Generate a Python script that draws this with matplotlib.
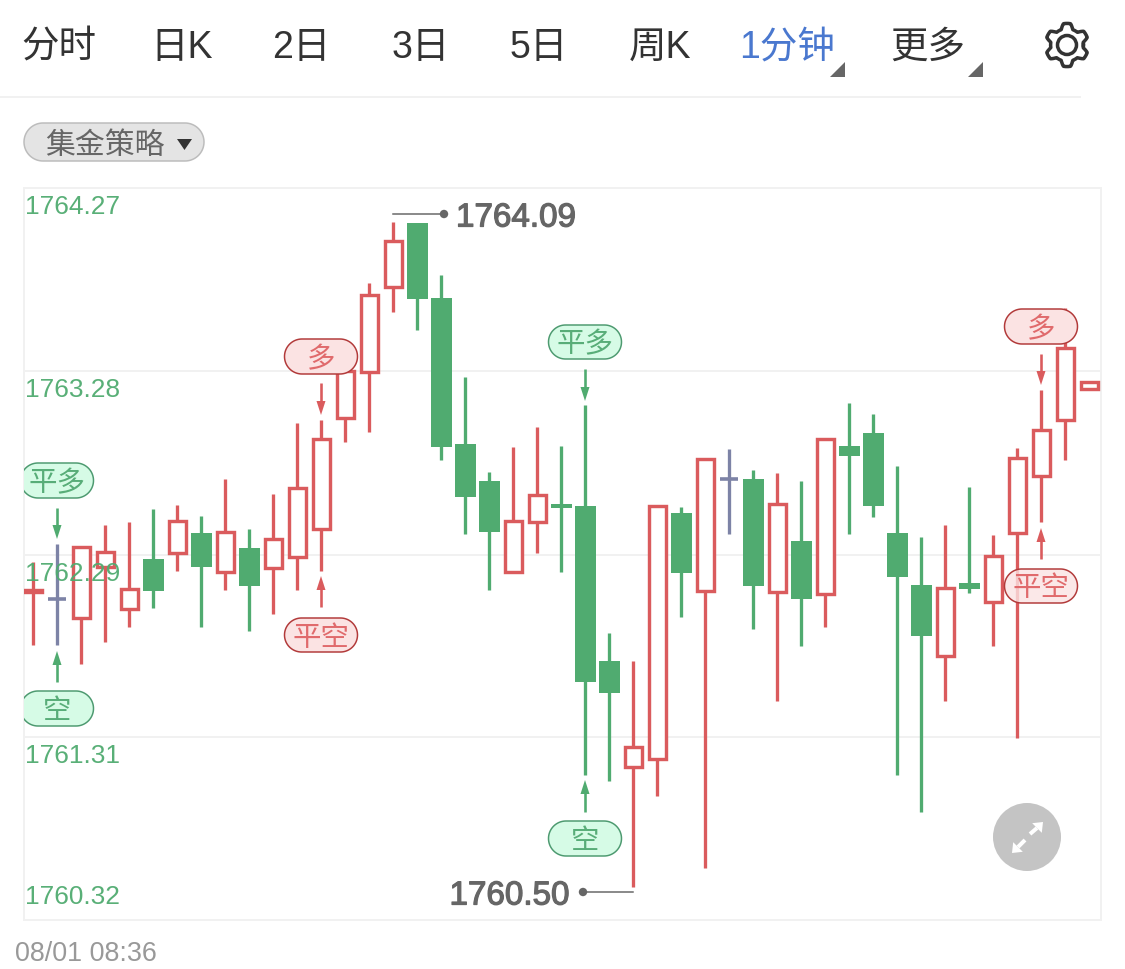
"""
1 minute K-line chart with trade signal markers, phone quote page style
"""

import matplotlib
matplotlib.use("Agg")
import matplotlib.pyplot as plt
import matplotlib.patheffects as pe
from matplotlib.colors import to_rgba
from matplotlib.patches import Circle, Polygon
import numpy as np

plt.rcParams['font.family'] = ['Liberation Sans', 'Noto Sans CJK SC']

# candle values
opens = [1762.090, 1762.052, 1761.949, 1762.225, 1761.998, 1762.268, 1762.300, 1762.408, 1762.198,
         1762.327, 1762.219, 1762.279, 1762.430, 1763.029, 1763.277, 1763.736, 1764.081, 1763.676,
         1762.888, 1762.689, 1762.198, 1762.468, 1762.565, 1762.554, 1761.717, 1761.145, 1761.189,
         1762.516, 1762.095, 1762.700, 1762.700, 1762.090, 1762.365, 1762.079, 1762.878, 1762.948,
         1762.408, 1762.128, 1761.744, 1762.138, 1762.036, 1762.408, 1762.716, 1763.018, 1763.185]
closes = [1762.100, 1762.052, 1762.333, 1762.306, 1762.106, 1762.095, 1762.473, 1762.225, 1762.413,
          1762.122, 1762.376, 1762.651, 1762.915, 1763.282, 1763.693, 1763.984, 1763.671, 1762.872,
          1762.602, 1762.413, 1762.473, 1762.613, 1762.543, 1761.604, 1761.545, 1761.253, 1762.554,
          1762.192, 1762.808, 1762.700, 1762.122, 1762.565, 1762.052, 1762.915, 1762.824, 1762.554,
          1762.171, 1761.852, 1762.111, 1762.106, 1762.284, 1762.813, 1762.964, 1763.407, 1763.223]
highs = [1762.252, 1762.349, 1762.333, 1762.451, 1762.468, 1762.538, 1762.559, 1762.500, 1762.700,
         1762.430, 1762.619, 1763.002, 1763.018, 1763.282, 1763.757, 1764.086, 1764.081, 1763.800,
         1763.250, 1762.737, 1762.872, 1762.980, 1762.878, 1763.099, 1761.869, 1761.717, 1762.554,
         1762.548, 1762.808, 1762.861, 1762.748, 1762.732, 1762.689, 1762.915, 1763.110, 1763.050,
         1762.770, 1762.387, 1762.451, 1762.656, 1762.397, 1762.867, 1763.180, 1763.622, 1763.223]
lows = [1761.804, 1761.804, 1761.701, 1761.820, 1761.901, 1762.003, 1762.203, 1761.901, 1762.100,
        1761.879, 1761.971, 1762.100, 1762.203, 1762.899, 1762.953, 1763.601, 1763.504, 1762.802,
        1762.403, 1762.100, 1762.198, 1762.300, 1762.198, 1761.102, 1761.070, 1760.498, 1760.989,
        1761.955, 1760.600, 1762.403, 1761.890, 1761.501, 1761.798, 1761.901, 1762.403, 1762.494,
        1761.102, 1760.903, 1761.501, 1762.084, 1761.798, 1761.302, 1762.468, 1762.802, 1763.185]

y_ticks = [1764.27, 1763.28, 1762.29, 1761.31, 1760.32]
tab_labels = ['分时', '日K', '2日', '3日', '5日', '周K', '1分钟', '更多']

RED = '#da5b5d'
GREEN = '#50ab70'
SLATE = '#7d83a6'
FRAME = '#f1f1f1'
PX = 0.72  # points per pixel at dpi 100

fig = plt.figure(figsize=(11.25, 9.69), dpi=100, facecolor='white')

# chart area, 24..1101 x 188..920 in picture pixels
ax = fig.add_axes([24 / 1125, 1 - 920 / 969, 1077 / 1125, 732 / 969], zorder=1)
ax.set_xlim(-0.375, 44.5)
ax.set_ylim(y_ticks[-1], y_ticks[0])
ax.set_xticks([])
ax.set_yticks([])
for spine in ax.spines.values():
    spine.set_color(FRAME)
    spine.set_linewidth(2 * PX)
for tick in y_ticks[1:-1]:
    ax.axhline(tick, color=FRAME, linewidth=2 * PX, zorder=1)

xs = np.arange(len(opens))
opens = np.array(opens)
closes = np.array(closes)
up = closes > opens
down = closes < opens
flat = closes == opens

wick_colors = [RED if u else (GREEN if d else SLATE) for u, d in zip(up, down)]
ax.vlines(xs, lows, highs, colors=wick_colors, linewidth=3.3 * PX, capstyle='butt', zorder=2)
ax.bar(xs[down], (opens - closes)[down], bottom=closes[down], width=21 / 24,
       color=GREEN, linewidth=0, zorder=3)
ax.bar(xs[up], (closes - opens)[up], bottom=opens[up], width=17 / 24,
       facecolor='white', edgecolor=RED, linewidth=3.4 * PX, zorder=3)
ax.hlines(closes[flat], xs[flat] - 9 / 24, xs[flat] + 9 / 24, colors=SLATE, linewidth=3.6 * PX, zorder=3)

tick_offsets = [-19, -19, -19, -19, 23]
for tick, off in zip(y_ticks, tick_offsets):
    ax.annotate(f'{tick:.2f}', xy=(0, tick), xycoords=('axes fraction', 'data'),
                xytext=(1, off * PX), textcoords='offset points', color=GREEN, fontsize=18.9,
                va='center', ha='left', alpha=0.95, zorder=6)

# overlay in picture pixels, for page furniture and markers
ui = fig.add_axes([0, 0, 1, 1], zorder=2)
ui.set_xlim(0, 1125)
ui.set_ylim(969, 0)
ui.axis('off')


def candle_x(i):
    return ax.transData.transform((i, y_ticks[0]))[0]


def stadium(left, right, top, bottom):
    """Outline of a fully rounded pill"""
    r = (bottom - top) / 2
    mid = (top + bottom) / 2
    a = np.linspace(-np.pi / 2, np.pi / 2, 40)
    east = np.column_stack([right - r + r * np.cos(a), mid + r * np.sin(a)])
    west = np.column_stack([left + r - r * np.cos(a), mid - r * np.sin(a)])
    return np.vstack([east, west])


def pill(i, top, bottom, text, kind, fill_alpha=1.0):
    fill, edge, ink = ('#d6fbe6', '#4d9a70', '#58ad78') if kind == 'green' else ('#fbe3e3', '#b23a3a', '#e06a6c')
    cx = candle_x(i)
    box = Polygon(stadium(cx - 36.5, cx + 36.5, top, bottom), closed=True, facecolor=to_rgba(fill, fill_alpha),
                  edgecolor=edge, linewidth=1.5 * PX, zorder=5)
    ui.add_patch(box)
    box.set_clip_path(ax.patch)
    ui.text(cx, (top + bottom) / 2 + 2.5, text, color=ink, fontsize=20.5, ha='center', va='center', zorder=6,
            family=['Noto Sans CJK SC'])


def arrow(i, tail, tip, color):
    cx = candle_x(i)
    sign = 1 if tip > tail else -1
    ui.plot([cx, cx], [tail, tip - sign * 10], color=color, linewidth=2.6 * PX, solid_capstyle='butt', zorder=5)
    ui.add_patch(Polygon([(cx, tip), (cx - 4.5, tip - sign * 14), (cx + 4.5, tip - sign * 14)],
                         closed=True, color=color, linewidth=0, zorder=5))


def extreme(x_from, x_to, y, text, ha, text_x):
    ui.plot([x_from, x_to], [y, y], color='#666666', linewidth=1.5 * PX, zorder=5)
    ui.add_patch(Circle((x_to, y), 4.2, color='#666666', linewidth=0, zorder=5))
    ui.text(text_x, y + 4, text, color='#666666', fontsize=23.9, ha=ha, va='center', zorder=6,
            path_effects=[pe.withStroke(linewidth=0.9, foreground='#666666')])


# markers, candle index then pill and arrow rows
pill(1, 463, 498, '平多', 'green')
arrow(1, 508, 539, GREEN)
pill(1, 691, 726, '空', 'green')
arrow(1, 682, 651, GREEN)
pill(12, 339, 374, '多', 'red')
arrow(12, 383, 415, RED)
pill(12, 618, 652, '平空', 'red')
arrow(12, 607, 576, RED)
pill(23, 325, 359, '平多', 'green')
arrow(23, 369, 401, GREEN)
pill(23, 821, 856, '空', 'green')
arrow(23, 812, 780, GREEN)
pill(42, 309, 344, '多', 'red')
arrow(42, 354, 385, RED)
pill(42, 569, 603, '平空', 'red', fill_alpha=0.8)
arrow(42, 559, 528, RED)

extreme(393, 444, 214, '1764.09', 'left', 456)
extreme(633, 583, 892, '1760.50', 'right', 569)

# tab bar
tab_centers = [59, 182, 301, 421, 539, 660, 787, 928]
for label, cx in zip(tab_labels, tab_centers):
    ui.text(cx, 48, label, color='#4a78cf' if label == '1分钟' else '#333333', fontsize=27,
            ha='center', va='center')
for right in (845, 983):
    ui.add_patch(Polygon([(right, 62), (right, 77), (right - 15, 77)], closed=True, color='#666666', linewidth=0))
ui.plot([0, 1080], [97, 97], color=FRAME, linewidth=2 * PX)

# gear
theta = np.linspace(0, 2 * np.pi, 361)
gear_r = 19 + 2.6 * np.clip(1.8 * np.cos(6 * (theta - np.pi / 2)), -1, 1)
ui.plot(1067 + gear_r * np.cos(theta), 45 + gear_r * np.sin(theta), color='#333333', linewidth=3.5 * PX)
ui.add_patch(Circle((1067, 45), 9.5, facecolor='none', edgecolor='#333333', linewidth=3.5 * PX))

# strategy dropdown
ui.add_patch(Polygon(stadium(24, 204, 123, 161), closed=True, facecolor='#e4e4e4', edgecolor='#bcbcbc',
                     linewidth=1.5 * PX))
ui.text(105, 146, '集金策略', color='#666666', fontsize=21.5, ha='center', va='center')
ui.add_patch(Polygon([(177, 139), (192, 139), (184.5, 150)], closed=True, color='#333333', linewidth=0))

# expand button
ui.add_patch(Circle((1027, 837), 34, color='#c4c4c4', linewidth=0, zorder=7))
for tip, base, end in [((1043, 822), (1037, 828), (1030, 834)),
                       ((1012, 853), (1018, 847), (1025, 840))]:
    ui.plot([base[0], end[0]], [base[1], end[1]], color='white', linewidth=4 * PX, solid_capstyle='butt', zorder=8)
    dx, dy = tip[0] - base[0], tip[1] - base[1]
    ui.add_patch(Polygon([tip, (base[0] - dy * 0.8, base[1] + dx * 0.8), (base[0] + dy * 0.8, base[1] - dx * 0.8)],
                         closed=True, color='white', linewidth=0, zorder=8))

ui.text(15, 954, '08/01 08:36', color='#999999', fontsize=19.4, ha='left', va='center')

fig.savefig('out.png', dpi=100)
